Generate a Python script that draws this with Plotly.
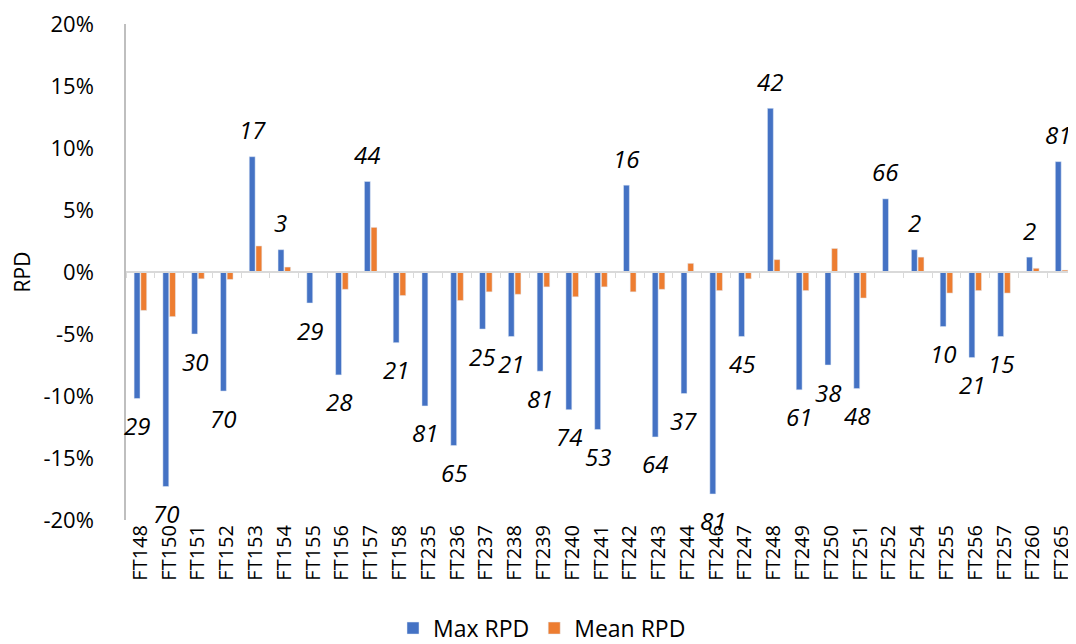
import plotly.graph_objects as go

categories = ["FT148", "FT150", "FT151", "FT152", "FT153", "FT154", "FT155", "FT156", "FT157", "FT158",
              "FT235", "FT236", "FT237", "FT238", "FT239", "FT240", "FT241", "FT242", "FT243", "FT244",
              "FT246", "FT247", "FT248", "FT249", "FT250", "FT251", "FT252", "FT254", "FT255", "FT256",
              "FT257", "FT260", "FT265"]
max_rpd = [-10.2, -17.3, -5.0, -9.6, 9.3, 1.8, -2.5, -8.3, 7.3, -5.7,
           -10.8, -14.0, -4.6, -5.2, -8.0, -11.1, -12.7, 7.0, -13.3, -9.8,
           -17.9, -5.2, 13.2, -9.5, -7.5, -9.4, 5.9, 1.8, -4.4, -6.9,
           -5.2, 1.2, 8.9]
mean_rpd = [-3.1, -3.6, -0.55, -0.6, 2.1, 0.4, 0.0, -1.4, 3.6, -1.9,
            0.0, -2.3, -1.6, -1.8, -1.2, -2.0, -1.2, -1.6, -1.4, 0.7,
            -1.5, -0.55, 1.0, -1.5, 1.9, -2.1, 0.0, 1.2, -1.7, -1.5,
            -1.7, 0.3, 0.15]
labels = [29, 70, 30, 70, 17, 3, 29, 28, 44, 21,
          81, 65, 25, 21, 81, 74, 53, 16, 64, 37,
          81, 45, 42, 61, 38, 48, 66, 2, 10, 21,
          15, 2, 81]
y_tick_vals = [-20, -15, -10, -5, 0, 5, 10, 15, 20]
y_tick_text = ["-20%", "-15%", "-10%", "-5%", "0%", "5%", "10%", "15%", "20%"]

FONT = "Open Sans"
BLUE = "#4472C4"
ORANGE = "#ED7D31"

fig = go.Figure()
fig.add_bar(x=categories, y=max_rpd, name="Max RPD", marker_color=BLUE, hoverinfo="x+y")
fig.add_bar(x=categories, y=mean_rpd, name="Mean RPD", marker_color=ORANGE, hoverinfo="x+y")
# helper trace so the zero-line category axis (with boundary ticks) is drawn
fig.add_scatter(x=categories, y=max_rpd, xaxis="x2", mode="markers",
                marker=dict(opacity=0), showlegend=False, hoverinfo="skip")

for c, v, lab in zip(categories, max_rpd, labels):
    fig.add_annotation(x=c, y=v, text=str(lab), showarrow=False,
                       yshift=27 if v > 0 else -27, xshift=-3.4, yanchor="middle",
                       font=dict(family=FONT, size=24, color="#000000", style="italic"))

n = len(categories)
fig.update_layout(
    width=1068, height=636,
    margin=dict(l=118, r=0, t=9, b=124),
    plot_bgcolor="white", paper_bgcolor="white",
    font=dict(family=FONT, color="#000000"),
    barmode="group", bargap=0.535, bargroupgap=0.12,
    xaxis=dict(type="category", categoryorder="array", categoryarray=categories,
               range=[-0.5, n - 0.5], tickangle=-90, showline=False, ticks="",
               showgrid=False, zeroline=False, tickfont=dict(size=20, color="#000000")),
    xaxis2=dict(type="category", categoryorder="array", categoryarray=categories,
                overlaying="x", anchor="free", position=0.5, side="bottom",
                range=[-0.5, n - 0.5], showline=True, linecolor="#d9d9d9", linewidth=1.5,
                ticks="outside", tickson="boundaries", ticklen=5, tickcolor="#d9d9d9",
                showticklabels=False, showgrid=False, zeroline=False),
    yaxis=dict(range=[-20, 20], tickmode="array", tickvals=y_tick_vals, ticktext=y_tick_text,
               showline=True, linecolor="#bfbfbf", linewidth=1.5, zeroline=False, showgrid=False,
               ticks="", ticklabelstandoff=26, ticklabeloverflow="allow",
               tickfont=dict(size=22, color="#000000"),
               title=dict(text="RPD", font=dict(size=21, color="#000000"), standoff=14)),
    legend=dict(orientation="h", xref="container", yref="container",
                x=0.5, xanchor="center", y=0.025, yanchor="middle",
                font=dict(size=23, color="#000000"), itemwidth=30),
)

fig.write_html("out.html")
